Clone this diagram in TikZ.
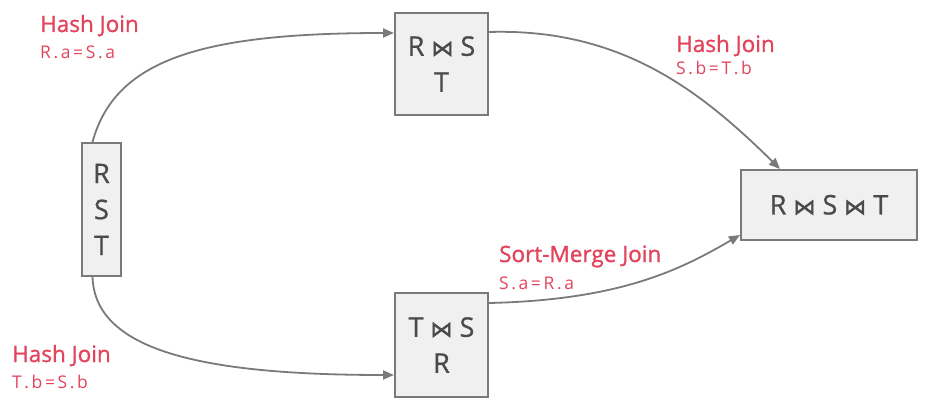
\documentclass[tikz,border=0pt]{standalone}
\usepackage{fontspec}
\setmainfont{Open Sans}
\newfontfamily\semib{Open Sans}[FakeBold=1.2]
\newfontfamily\semibbox{Open Sans}[FakeBold=0.8]
\newfontfamily\bowfont{DejaVu Sans}[FakeBold=1.5]
\usetikzlibrary{arrows.meta}
\definecolor{boxfill}{HTML}{F0F0F0}
\definecolor{boxline}{HTML}{7A7A7A}
\definecolor{lbl}{HTML}{E2445C}
\definecolor{txt}{HTML}{4A4A4A}
\newcommand{\bt}{{\bowfont\fontsize{22}{22}\selectfont ⋈}}
\newcommand{\cs}{\hspace{2.6pt}}
\tikzset{
  relbox/.style={draw=boxline, line width=2pt, fill=boxfill, text=txt, inner sep=0pt,
    font=\semibbox\fontsize{27}{36}\selectfont, align=center},
  joinlbl/.style={anchor=base west, text=lbl, inner sep=0pt, font=\semib\fontsize{22.5}{24}\selectfont},
  condlbl/.style={anchor=base west, text=lbl, inner sep=0pt, font=\fontsize{17.5}{16}\selectfont},
  flow/.style={draw=boxline, line width=1.8pt, -{Triangle[length=11pt,width=9pt]}},
}
\begin{document}
\begin{tikzpicture}[x=1pt,y=-1pt]
\useasboundingbox (0,0) rectangle (930,409);
\node[relbox, minimum width=39pt, minimum height=133pt] (rst) at (101.5,209.5) {R\\S\\T};
\node[relbox, minimum width=93pt, minimum height=102pt] (rs) at (441.5,64) {R \bt{} S\\T};
\node[relbox, minimum width=93pt, minimum height=104pt] (ts) at (441.5,345) {T \bt{} S\\R};
\node[relbox, minimum width=176pt, minimum height=70pt] (fin) at (829,205) {R \bt{} S \bt{} T};

\draw[flow] ([xshift=-9pt]rst.north) .. controls (115,60) and (200,33) .. ([yshift=31pt]rs.west);
\draw[flow] ([xshift=-9pt]rst.south) .. controls (95,350) and (200,375) .. ([yshift=-30pt]ts.west);
\draw[flow] ([yshift=32pt]rs.east) .. controls (620,28) and (700,90) .. ([xshift=-49pt]fin.north);
\draw[flow] ([yshift=42pt]ts.east) .. controls (620,300) and (680,270) .. ([yshift=-30pt]fin.west);

\node[joinlbl] (l1) at (40,32) {Hash Join};
\node[condlbl] (c1) at (40,59) {R\cs.\cs a\cs=\cs S\cs.\cs a};
\node[joinlbl] (l2) at (676,52) {Hash Join};
\node[condlbl] (c2) at (676,75) {S\cs.\cs b\cs=\cs T\cs.\cs b};
\node[joinlbl] (l3) at (499,262) {Sort-Merge Join};
\node[condlbl] (c3) at (499,289) {S\cs.\cs a\cs=\cs R\cs.\cs a};
\node[joinlbl] (l4) at (12,362) {Hash Join};
\node[condlbl] (c4) at (12,388) {T\cs.\cs b\cs=\cs S\cs.\cs b};
\end{tikzpicture}
\end{document}
